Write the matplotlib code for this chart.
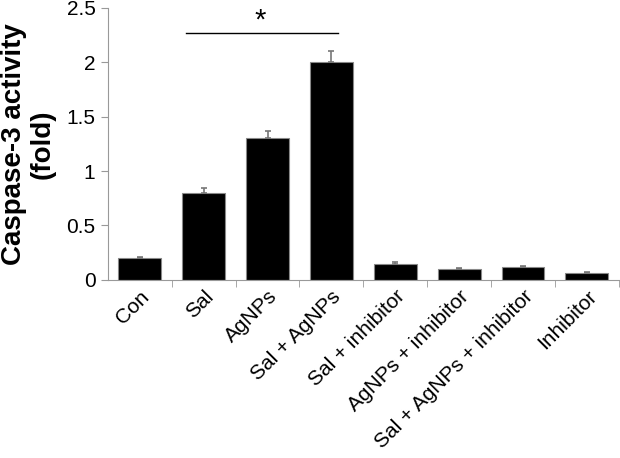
import numpy as np
import matplotlib.pyplot as plt

plt.rcParams['font.family'] = ['Liberation Sans', 'DejaVu Sans']

groups = ['Con', 'Sal', 'AgNPs', 'Sal + AgNPs', 'Sal + inhibitor',
          'AgNPs + inhibitor', 'Sal + AgNPs + inhibitor', 'Inhibitor']
activity = [0.2, 0.8, 1.3, 2.0, 0.15, 0.1, 0.12, 0.065]
errors = [0.01, 0.04, 0.065, 0.1, 0.01, 0.005, 0.01, 0.005]

fig = plt.figure(figsize=(6.2, 4.58), dpi=100)
ax = fig.add_axes([0.174, 0.389, 0.824, 0.594])

x = np.arange(len(groups))
ax.bar(x, activity, width=0.67, color='black', edgecolor='#888888', linewidth=0.8,
       yerr=[np.zeros(len(errors)), errors],
       error_kw=dict(ecolor='#777777', elinewidth=1.2, capsize=2.5, capthick=1.2))

# significance bar between Sal and Sal + AgNPs
ax.plot([0.72, 3.1], [2.27, 2.27], color='black', linewidth=1)
ax.text(1.88, 2.255, '*', ha='center', va='bottom', fontsize=21)

ax.set_xlim(-0.5, len(groups) - 0.5)
ax.set_ylim(0, 2.5)
ax.set_yticks([0, 0.5, 1, 1.5, 2, 2.5])
ax.set_yticklabels(['0', '0.5', '1', '1.5', '2', '2.5'])
ax.set_xticks(x)
ax.set_xticklabels(groups, rotation=45, ha='right', rotation_mode='anchor')
ax.set_xticks(np.arange(len(groups)) + 0.5, minor=True)
ax.tick_params(axis='x', which='major', length=0, pad=5, labelsize=15)
ax.tick_params(axis='x', which='minor', length=5, color='#999999', direction='out')
ax.tick_params(axis='y', length=5, color='#999999', labelsize=15, pad=4)

for side in ['top', 'right']:
    ax.spines[side].set_visible(False)
for side in ['left', 'bottom']:
    ax.spines[side].set_color('#999999')

ax.set_ylabel('Caspase-3 activity\n(fold)', fontsize=20, fontweight='bold',
              labelpad=8, linespacing=1.1)

fig.savefig('out.png', dpi=100)
